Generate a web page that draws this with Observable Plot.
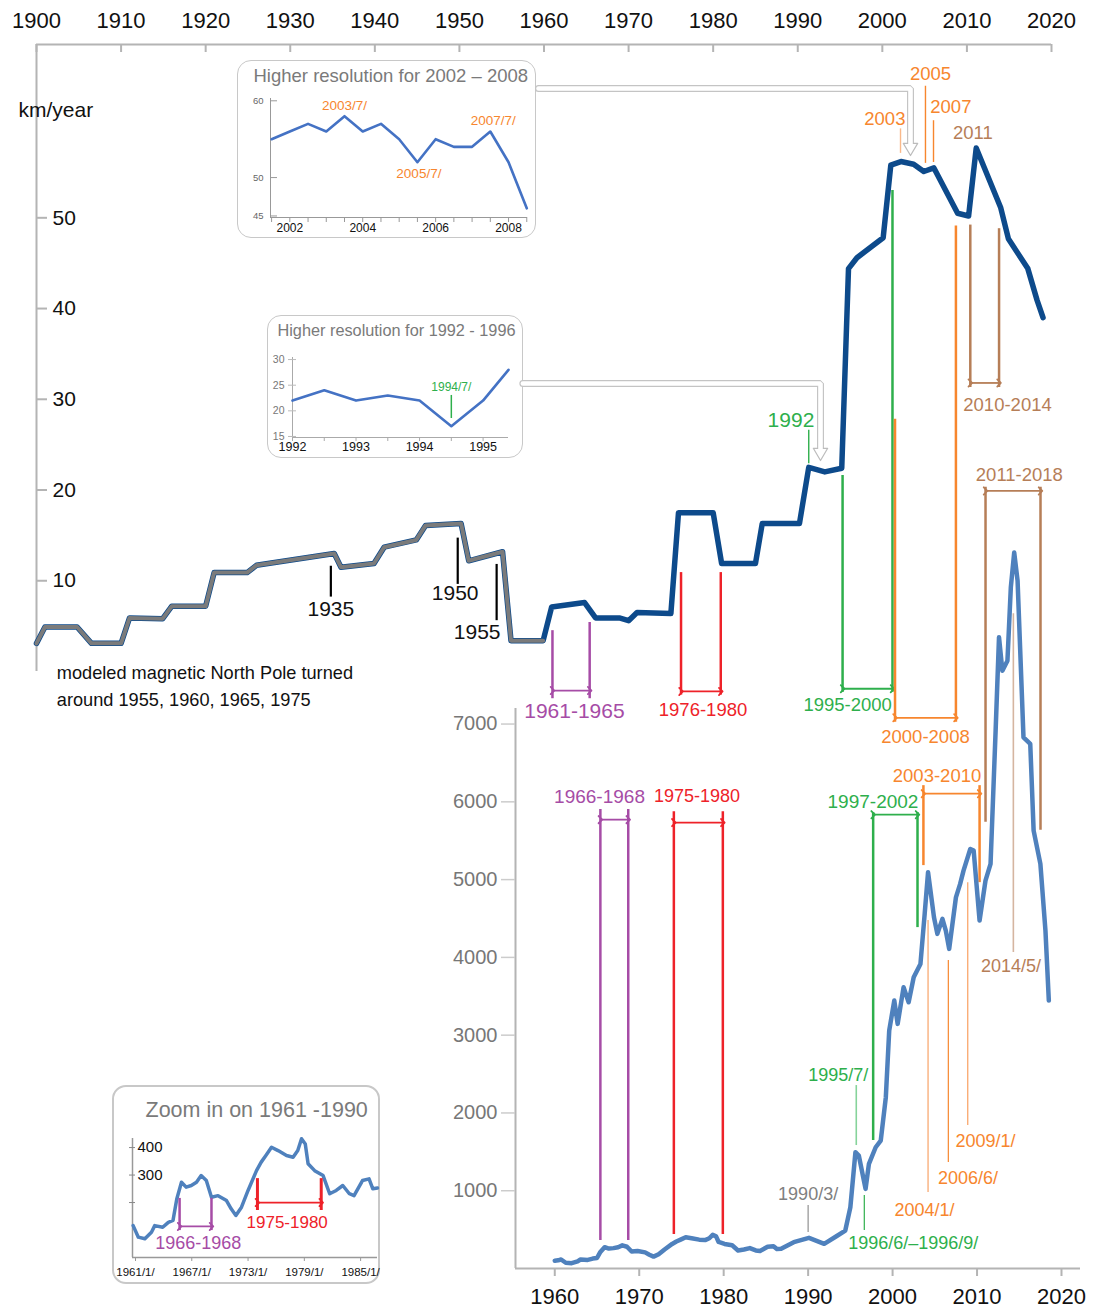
<!DOCTYPE html>
<html>
<head>
<meta charset="utf-8">
<script src="https://cdn.jsdelivr.net/npm/d3@7"></script>
<script src="https://cdn.jsdelivr.net/npm/@observablehq/plot@0.6"></script>
<style>
  html, body { margin: 0; padding: 0; background: #fff; overflow: hidden; }
  #wrap { position: relative; width: 1095px; height: 1311px; overflow: hidden; background: #fff; }
  #wrap svg { position: absolute; left: 0; top: 0; }
  .box { position: absolute; box-sizing: border-box; border: 1.5px solid #c8c8c8; border-radius: 14px; background: #fff; }
</style>
</head>
<body>
<div id="wrap"></div>
<script>
// ======================= DATA =======================
// --- upper chart: speed, km/year ---
const topXTicks = [1900,1910,1920,1930,1940,1950,1960,1970,1980,1990,2000,2010,2020];
const topYTicks = [10,20,30,40,50];
const unitLabel = "km/year";
const topYears = [1900,1901,1904.8,1906.5,1910,1911,1914.9,1916,1920,1921,1924.9,1926,1935.2,1936,1939.9,1941.1,1944.9,1946,1950.2,1951.1,1955.1,1956.1,1959.9,
  1960.9,1964.8,1966.1,1968.9,1970,1971,1975,1975.9,1980,1981,1985,1985.8,1990.2,1991.3,1993.2,1995.2,1996,1997,2000.1,2001,2002.2,2003.7,2004.9,2006.1,2008.9,2010.2,2011.1,2014,2014.9,2017.2,2018.3,2019];
const topValues = [3.1,4.9,4.9,3.1,3.1,5.9,5.8,7.2,7.2,10.9,10.9,11.7,13.0,11.5,11.9,13.7,14.5,16.1,16.3,12.2,13.2,3.4,3.4,
  7.1,7.6,5.9,5.9,5.6,6.5,6.4,17.5,17.5,11.9,11.9,16.3,16.3,22.5,22.0,22.4,44.4,45.6,47.8,55.8,56.2,55.9,55.1,55.5,50.5,50.2,57.7,51.1,47.7,44.4,40.9,39.0];
const modelledUntil = 1959.9;
const turnLabels = ["1935","1950","1955"];
const noteLines = ["modeled magnetic North Pole turned","around 1955, 1960, 1965, 1975"];
const topPeriodLabels = ["1961-1965","1976-1980","1995-2000","2000-2008","2010-2014","2011-2018"];
const topPeriodFrom = [1961.0,1976.2,1995.3,2001.5,2010.4,2012.2];
const topPeriodTo   = [1965.4,1980.9,2001.2,2008.7,2013.8,2018.7];
const topYearLabels = ["1992","2003","2005","2007","2011"];

// --- lower chart ---
const btmXTicks = [1960,1970,1980,1990,2000,2010,2020];
const btmYTicks = [1000,2000,3000,4000,5000,6000,7000];
const btmYears = [1960.0,1960.4,1960.75,1961.3,1962.0,1962.7,1963.05,1963.9,1964.5,1965.0,1965.4,1965.9,1966.4,1966.95,1967.5,1968.0,1968.55,1969.1,1969.8,1970.7,1971.2,1971.7,1972.3,1973.0,1973.9,1974.4,1974.9,1975.5,1976.2,1977.1,1977.8,1978.3,1978.7,1979.1,1979.4,1980.1,1981.0,1981.7,1982.4,1983.1,1983.8,1984.3,1985.2,1985.9,1986.3,1986.8,
  1988.3,1990.1,1991.9,1993.3,1994.4,1995.0,1995.6,1996.0,1996.8,1997.2,1998.0,1998.6,1999.2,1999.6,2000.2,2000.6,2001.3,2001.9,2002.5,2003.3,2003.8,2004.2,2004.9,2005.3,2005.9,2006.3,2006.7,2007.5,2008.0,2008.4,2009.2,2009.6,2010.3,2011.0,2011.6,2012.2,2012.6,2013.0,2013.6,2014.0,2014.4,2014.8,2015.5,2016.3,2016.7,2017.5,2018.1,2018.5];
const btmValues = [100,105,116,74,68,92,116,110,128,135,213,274,256,262,274,298,280,219,225,207,177,153,183,244,316,347,371,401,389,371,365,389,432,413,341,316,298,232,244,262,232,225,280,286,250,253,
  338,394,317,411,488,788,1495,1452,1024,1346,1559,1645,2202,3059,3445,3145,3616,3423,3744,3916,4559,5094,4516,4302,4495,4344,4109,4772,4945,5116,5394,5373,4473,4987,5202,6915,8115,7686,7815,8757,9207,8843,6829,6744,5630,5202,4344,3445];
const btmPeriodLabels = ["1966-1968","1975-1980","1997-2002","2003-2010"];
const btmPeriodFrom = [1965.4,1974.1,1997.7,2003.65];
const btmPeriodTo   = [1968.7,1979.9,2002.95,2010.3];
const btmDateLabels = ["1990/3/","1995/7/","1996/6/\u20131996/9/","2004/1/","2006/6/","2009/1/","2014/5/"];
const btmDateYears  = [1990.0,1995.7,1996.65,2004.2,2006.6,2008.9,2014.3];

// --- inset: 2002-2008 ---
const hrATitle = "Higher resolution for 2002 \u2013 2008";
const hrAYears  = [2001.5,2002,2002.5,2003,2003.5,2004,2004.5,2005,2005.5,2006,2006.5,2007,2007.5,2008,2008.5];
const hrAValues = [55,56,57,56,58,56,57,55,52,55,54,54,56,52,46];
const hrAXLabels = [2002,2004,2006,2008];
const hrAYTicks = [45,50,60];
const hrANotes = ["2003/7/","2005/7/","2007/7/"];
const hrANoteYears = [2003.5,2005.5,2007.5];

// --- inset: 1992-1996 ---
const hrBTitle = "Higher resolution for 1992 - 1996";
const hrBYears  = [1992,1992.5,1993,1993.5,1994,1994.5,1995,1995.4];
const hrBValues = [22,24,22,23,22,17,22,28];
const hrBXLabels = [1992,1993,1994,1995];
const hrBYTicks = [15,20,25,30];
const hrBNote = "1994/7/";
const hrBNoteYear = 1994.5;

// --- inset: 1961-1990 ---
const zoomTitle = "Zoom in on 1961 -1990";
const zoomXLabels = ["1961/1/","1967/1/","1973/1/","1979/1/","1985/1/"];
const zoomXTickYears = [1961,1967,1973,1979,1985];
const zoomYTicks = [200,300,400];
const zoomYLabels = ["","300","400"];
const zoomPeriodLabels = ["1966-1968","1975-1980"];
const zoomPeriodFrom = [1965.7,1974.0];
const zoomPeriodTo   = [1969.1,1980.8];

// ======================= STYLE & LAYOUT =======================
const W = 1095, H = 1311;
const FONT = "'Liberation Sans', Arial, Helvetica, sans-serif";
const C = {purple:"#a64ca6", red:"#ee2229", green:"#2eaf4c", orange:"#f7862e", brown:"#b67e57",
  navy:"#0d4a8b", gray:"#7b7b7b", blue:"#4f81bd", inset:"#4472c4", axis:"#b4b4b4", title:"#7a7a7a"};
const wrap = document.getElementById("wrap");

function box(l, t, w, h, bw) {
  const d = document.createElement("div");
  d.className = "box";
  Object.assign(d.style, {left: l + "px", top: t + "px", width: w + "px", height: h + "px", borderWidth: bw + "px"});
  wrap.appendChild(d);
}
function add(opts) {
  const svg = Plot.plot({width: W, height: H, ...opts,
    style: {background: "transparent", overflow: "visible", fontFamily: FONT}});
  wrap.appendChild(svg);
}
function txt(items, opts) {
  return Plot.text(items, {x: "x", y: "y", text: "t", fontFamily: FONT, lineAnchor: "middle", ...opts});
}
function label(items, opts) {
  return Plot.text(items, {fontFamily: FONT, lineAnchor: "middle", ...opts});
}
function periodMarks(labels, from, to, layout) {
  const marks = [];
  labels.forEach((lab, i) => {
    const L = layout[i];
    const bars = [{x: from[i], y1: L.tops[0], y2: L.bottoms[0]}, {x: to[i], y1: L.tops[1], y2: L.bottoms[1]}];
    marks.push(Plot.ruleX(bars, {x: "x", y1: "y1", y2: "y2", stroke: L.color, strokeWidth: L.bw || 2.5}));
    marks.push(Plot.link([{x1: from[i], x2: to[i], y: L.arrowY}],
      {x1: "x1", x2: "x2", y1: "y", y2: "y", stroke: L.color, strokeWidth: 1.8, markerStart: "arrow", markerEnd: "arrow"}));
    marks.push(txt([{t: lab, x: L.lx, y: L.ly}], {fill: L.color, fontSize: L.fs}));
  });
  return marks;
}

// inset frames (drawn under everything)
box(237, 60, 299, 178, 1.5);
box(267, 315, 256, 143, 1.5);
box(112, 1085, 268, 199, 2);

// ----------------------- upper chart -----------------------
const TOP = {left: 36, right: 1051, top: 44, bottom: 671};
const topXDomain = [1900, 2020], topYDomain = [0, 69.1];
const topData = topYears.map((year, i) => ({year, v: topValues[i]}));

const turnLayout = [
  {x: 1934.8, y1: 11.6, y2: 8.2, lx: 1934.8, ly: 6.9},
  {x: 1949.8, y1: 14.7, y2: 9.6, lx: 1949.5, ly: 8.6},
  {x: 1954.4, y1: 11.8, y2: 5.6, lx: 1952.1, ly: 4.3}
];
const noteLayout = [{x: 1902.4, y: -0.2}, {x: 1902.4, y: -3.2}];
const topPeriodLayout = [
  {color: C.purple, tops: [4.5, 5.4],  bottoms: [-3.0, -3.0], arrowY: -2.1, lx: 1963.6, ly: -4.4, fs: 21},
  {color: C.red,    tops: [10.9, 10.9], bottoms: [-2.6, -2.6], arrowY: -2.2, lx: 1978.8, ly: -4.3, fs: 18.5},
  {color: C.green,  tops: [21.6, 53.0], bottoms: [-2.3, -2.3], arrowY: -1.9, lx: 1995.9, ly: -3.7, fs: 18.5},
  {color: C.orange, tops: [27.8, 49.1], bottoms: [-5.6, -5.6], arrowY: -5.1, lx: 2005.1, ly: -7.2, fs: 18.5},
  {color: C.brown,  tops: [49.2, 48.8], bottoms: [31.3, 31.3], arrowY: 31.8, lx: 2014.8, ly: 29.4, fs: 18.5},
  {color: C.brown,  tops: [20.3, 20.3], bottoms: [-16.6, -17.5], arrowY: 19.9, lx: 2016.2, ly: 21.6, fs: 18.5}
];
const topYearLayout = [
  {x: 1989.2, y: 27.7, color: C.green,  line: {x: 1991.3, y1: 26.6, y2: 22.9, color: C.green}},
  {x: 2000.3, y: 60.9, color: C.orange, line: {x: 2002.15, y1: 59.8, y2: 57.1, color: "#f9b98a"}},
  {x: 2005.7, y: 65.8, color: C.orange, line: {x: 2005.1, y1: 64.5, y2: 56.0, color: C.orange}},
  {x: 2008.1, y: 62.2, color: C.orange, line: {x: 2006.05, y1: 60.7, y2: 56.1, color: C.orange}},
  {x: 2010.7, y: 59.3, color: C.brown,  line: null}
];
// hollow connector arrows from the insets
const connectors = [
  {path: [{x: 1959.35, y: 64.25}, {x: 2003.33, y: 64.25}, {x: 2003.33, y: 58.1}], tip: 56.86, base: 58.2},
  {path: [{x: 1957.5, y: 31.74}, {x: 1992.69, y: 31.74}, {x: 1992.69, y: 24.5}], tip: 23.25, base: 24.6}
];
const headHalf = 0.85; // years
const connMarks = [];
connectors.forEach(c => {
  const x = c.path[c.path.length - 1].x;
  const tri = [{x: x - headHalf, y: c.base}, {x: x + headHalf, y: c.base}, {x, y: c.tip}, {x: x - headHalf, y: c.base}];
  connMarks.push(Plot.line(c.path, {x: "x", y: "y", stroke: "#c4c4c4", strokeWidth: 7, strokeLinejoin: "miter"}));
  connMarks.push(Plot.line(tri, {x: "x", y: "y", fill: "white", stroke: "#bcbcbc", strokeWidth: 1.2}));
  connMarks.push(Plot.line(c.path, {x: "x", y: "y", stroke: "white", strokeWidth: 4.6, strokeLinejoin: "miter"}));
});

add({
  marginLeft: TOP.left, marginRight: W - TOP.right, marginTop: TOP.top, marginBottom: H - TOP.bottom,
  x: {domain: topXDomain, axis: null},
  y: {domain: topYDomain, axis: null},
  marks: [
    Plot.ruleY([topYDomain[1]], {stroke: C.axis, strokeWidth: 2}),
    Plot.ruleX([topXDomain[0]], {stroke: C.axis, strokeWidth: 2}),
    Plot.ruleX(topXTicks, {x: d => d, stroke: C.axis, strokeWidth: 2, insetBottom: (TOP.bottom - TOP.top) - 8}),
    Plot.ruleY(topYTicks, {y: d => d, stroke: C.axis, strokeWidth: 2, insetRight: (TOP.right - TOP.left) - 11}),
    label(topXTicks, {x: d => d, frameAnchor: "top", dy: -24, text: d => String(d), fontSize: 22, fill: "#111"}),
    label(topYTicks, {y: d => d, frameAnchor: "left", dx: 16, textAnchor: "start", text: d => String(d), fontSize: 21, fill: "#111"}),
    label([unitLabel], {frameAnchor: "top-left", dx: -18, dy: 66, textAnchor: "start", text: d => d, fontSize: 21, fill: "#111"}),
    ...connMarks,
    Plot.line(topData, {x: "year", y: "v", stroke: C.navy, strokeWidth: 5.5, strokeLinejoin: "round", strokeLinecap: "round"}),
    Plot.line(topData.filter(d => d.year <= modelledUntil), {x: "year", y: "v", stroke: C.gray, strokeWidth: 4, strokeLinejoin: "round"}),
    Plot.ruleX(turnLayout, {x: "x", y1: "y1", y2: "y2", stroke: "#000", strokeWidth: 2.2}),
    txt(turnLabels.map((t, i) => ({t, x: turnLayout[i].lx, y: turnLayout[i].ly})), {fill: "#111", fontSize: 21}),
    txt(noteLines.map((t, i) => ({t, ...noteLayout[i]})), {textAnchor: "start", fill: "#111", fontSize: 18.2}),
    ...periodMarks(topPeriodLabels, topPeriodFrom, topPeriodTo, topPeriodLayout),
    Plot.ruleX(topYearLayout.filter(d => d.line).map(d => d.line), {x: "x", y1: "y1", y2: "y2", stroke: d => d.color, strokeWidth: 1.4}),
    ...topYearLabels.map((t, i) => txt([{t, x: topYearLayout[i].x, y: topYearLayout[i].y}], {fill: topYearLayout[i].color, fontSize: i === 0 ? 21 : 18.5}))
  ]
});

// ----------------------- lower chart -----------------------
const BTM = {left: 515, right: 1080, top: 708, bottom: 1268};
const btmXDomain = [1955.35, 2022.25], btmYDomain = [0, 7200];
const btmData = btmYears.map((year, i) => ({year, v: btmValues[i]}));
const btmPeriodLayout = [
  {color: C.purple, tops: [5900, 5900], bottoms: [360, 360],   arrowY: 5771, lx: 1965.3, ly: 6067, fs: 19},
  {color: C.red,    tops: [5874, 5874], bottoms: [437, 437],   arrowY: 5733, lx: 1976.84, ly: 6067, fs: 18},
  {color: C.green,  tops: [5861, 5861], bottoms: [1645, 4383], arrowY: 5835, lx: 1997.68, ly: 6003, fs: 19},
  {color: C.orange, tops: [6208, 6208], bottoms: [5180, 4961], arrowY: 6105, lx: 2005.26, ly: 6337, fs: 18.5}
];
const dateLayout = [
  {lx: 1990.0,  ly: 951,  anchor: "middle", color: "#808080", line: {y1: 463, y2: 810},   lineColor: "#999999", lw: 1.3},
  {lx: 1993.57, ly: 2481, anchor: "middle", color: C.green,   line: {y1: 1581, y2: 2352}, lineColor: "#86d39a", lw: 1.6},
  {lx: 1994.75, ly: 321,  anchor: "start",  color: C.green,   line: {y1: 488, y2: 938},   lineColor: C.green,   lw: 1.2},
  {lx: 2003.78, ly: 746,  anchor: "middle", color: C.orange,  line: {y1: 977, y2: 4473},  lineColor: "#f9b07d", lw: 1.4},
  {lx: 2008.93, ly: 1157, anchor: "middle", color: C.orange,  line: {y1: 1362, y2: 3959}, lineColor: C.orange,  lw: 1.2},
  {lx: 2011.0,  ly: 1632, anchor: "middle", color: C.orange,  line: {y1: 1838, y2: 4961}, lineColor: "#f9a060", lw: 1.2},
  {lx: 2014.02, ly: 3882, anchor: "middle", color: C.brown,   line: {y1: 4062, y2: 8419}, lineColor: "#d5b5a0", lw: 1.6}
];
const dateMarks = [];
btmDateLabels.forEach((t, i) => {
  const L = dateLayout[i];
  dateMarks.push(Plot.ruleX([{x: btmDateYears[i], ...L.line}], {x: "x", y1: "y1", y2: "y2", stroke: L.lineColor, strokeWidth: L.lw}));
  dateMarks.push(txt([{t, x: L.lx, y: L.ly}], {fill: L.color, fontSize: 18, textAnchor: L.anchor}));
});

add({
  marginLeft: BTM.left, marginRight: W - BTM.right, marginTop: BTM.top, marginBottom: H - BTM.bottom,
  x: {domain: btmXDomain},
  y: {domain: btmYDomain},
  marks: [
    Plot.ruleX([btmXDomain[0]], {stroke: C.axis, strokeWidth: 2}),
    Plot.ruleY([0], {stroke: C.axis, strokeWidth: 2}),
    Plot.axisX({ticks: btmXTicks, anchor: "bottom", tickSize: 8, tickPadding: 12, tickFormat: d => String(d), fontSize: 22, stroke: C.axis, strokeWidth: 2, fill: "#111", fontFamily: FONT}),
    Plot.axisY({ticks: btmYTicks, anchor: "left", tickSize: 14, tickPadding: 4, tickFormat: d => String(d), fontSize: 20, stroke: "#cccccc", strokeWidth: 1.5, fill: "#777", fontFamily: FONT}),
    ...periodMarks(btmPeriodLabels, btmPeriodFrom, btmPeriodTo, btmPeriodLayout),
    ...dateMarks,
    Plot.line(btmData, {x: "year", y: "v", stroke: C.blue, strokeWidth: 4.5, strokeLinejoin: "round", strokeLinecap: "round"})
  ]
});

// ----------------------- inset 2002-2008 -----------------------
const IA = {left: 270, right: 527, top: 98, bottom: 217};
const iaX = [2001.47, 2008.52], iaY = [44.8, 60.3];
const hrAData = hrAYears.map((year, i) => ({year, v: hrAValues[i]}));
const hrANoteLayout = [{dx: 0, y: 59.4}, {dx: 0.04, y: 50.5}, {dx: 0.08, y: 57.4}];
add({
  marginLeft: IA.left, marginRight: W - IA.right, marginTop: IA.top, marginBottom: H - IA.bottom,
  x: {domain: iaX}, y: {domain: iaY, axis: null},
  marks: [
    Plot.ruleX([iaX[0]], {stroke: "#999", strokeWidth: 1}),
    Plot.ruleY([iaY[0]], {stroke: "#999", strokeWidth: 1}),
    Plot.axisX({ticks: hrAYears, anchor: "bottom", tickSize: 5, tickFormat: () => "", stroke: "#999"}),
    Plot.axisX({ticks: hrAXLabels, anchor: "bottom", tickSize: 0, tickPadding: 6, tickFormat: d => String(d), fontSize: 12, fill: "#111", fontFamily: FONT}),
    Plot.ruleY(hrAYTicks, {y: d => d, stroke: "#999", insetRight: (IA.right - IA.left) - 7}),
    label(hrAYTicks, {y: d => d, frameAnchor: "left", dx: -7, textAnchor: "end", text: d => String(d), fontSize: 9.5, fill: "#666"}),
    label([hrATitle], {frameAnchor: "top-left", dx: -17, dy: -22, textAnchor: "start", text: d => d, fontSize: 18.5, fill: C.title}),
    Plot.line(hrAData, {x: "year", y: "v", stroke: C.inset, strokeWidth: 2.6, strokeLinejoin: "round"}),
    txt(hrANotes.map((t, i) => ({t, x: hrANoteYears[i] + hrANoteLayout[i].dx, y: hrANoteLayout[i].y})), {fill: C.orange, fontSize: 13.5})
  ]
});

// ----------------------- inset 1992-1996 -----------------------
const IB = {left: 292, right: 508, top: 357, bottom: 437};
const ibX = [1992, 1995.4], ibY = [14.8, 30.4];
const hrBData = hrBYears.map((year, i) => ({year, v: hrBValues[i]}));
add({
  marginLeft: IB.left, marginRight: W - IB.right, marginTop: IB.top, marginBottom: H - IB.bottom,
  x: {domain: ibX}, y: {domain: ibY, axis: null},
  marks: [
    Plot.ruleX([ibX[0]], {stroke: "#aaa", strokeWidth: 1}),
    Plot.ruleY([ibY[0]], {stroke: "#aaa", strokeWidth: 1}),
    Plot.axisX({ticks: hrBYears.filter(y => Number.isInteger(y * 2)), anchor: "bottom", tickSize: 4, tickFormat: () => "", stroke: "#aaa"}),
    Plot.axisX({ticks: hrBXLabels, anchor: "bottom", tickSize: 0, tickPadding: 5, tickFormat: d => String(d), fontSize: 12.5, fill: "#111", fontFamily: FONT}),
    Plot.ruleY(hrBYTicks, {y: d => d, stroke: "#bbb", insetLeft: -4, insetRight: (IB.right - IB.left) - 4}),
    label(hrBYTicks, {y: d => d, frameAnchor: "left", dx: -8, textAnchor: "end", text: d => String(d), fontSize: 10.5, fill: "#777"}),
    label([hrBTitle], {frameAnchor: "top-left", dx: -15, dy: -27, textAnchor: "start", text: d => d, fontSize: 16.3, fill: C.title}),
    Plot.line(hrBData, {x: "year", y: "v", stroke: C.inset, strokeWidth: 2.6, strokeLinejoin: "round"}),
    Plot.ruleX([{x: hrBNoteYear, y1: 23.0, y2: 18.5}], {x: "x", y1: "y1", y2: "y2", stroke: C.green, strokeWidth: 1.5}),
    txt([{t: hrBNote, x: hrBNoteYear, y: 24.7}], {fill: C.green, fontSize: 12})
  ]
});

// ----------------------- inset 1961-1990 -----------------------
const IC = {left: 132, right: 377, top: 1138, bottom: 1257};
const icX = [1960.68, 1986.8], icY = [0, 433];
const zoomData = btmData.filter(d => d.year >= 1960.7 && d.year <= icX[1]);
const zoomPeriodLayout = [
  {color: C.purple, tops: [215, 215], bottoms: [98, 98],   arrowY: 113, lx: 1967.7, ly: 51,  fs: 18, bw: 2.5},
  {color: C.red,    tops: [287, 287], bottoms: [171, 171], arrowY: 200, lx: 1977.17, ly: 127, fs: 17, bw: 3}
];
add({
  marginLeft: IC.left, marginRight: W - IC.right, marginTop: IC.top, marginBottom: H - IC.bottom,
  x: {domain: icX}, y: {domain: icY, axis: null},
  marks: [
    Plot.ruleX([icX[0]], {stroke: "#999", strokeWidth: 1.5}),
    Plot.ruleY([icY[0]], {stroke: "#999", strokeWidth: 1.5}),
    Plot.axisX({ticks: zoomXTickYears, anchor: "bottom", tickSize: 4, tickFormat: () => "", stroke: "#999"}),
    Plot.ruleY(zoomYTicks, {y: d => d, stroke: "#888", insetLeft: -3, insetRight: (IC.right - IC.left) - 3}),
    label(zoomYTicks, {y: d => d, frameAnchor: "left", dx: 5, textAnchor: "start", text: (d, i) => zoomYLabels[i], fontSize: 15, fill: "#111"}),
    label(zoomXLabels.map((t, i) => ({t, x: zoomXTickYears[i]})), {x: "x", text: "t", frameAnchor: "bottom", dy: 15, fontSize: 11.5, fill: "#111"}),
    label([zoomTitle], {frameAnchor: "top-left", dx: 13, dy: -28, textAnchor: "start", text: d => d, fontSize: 21.5, fill: C.title}),
    Plot.line(zoomData, {x: "year", y: "v", stroke: C.blue, strokeWidth: 3.5, strokeLinejoin: "round"}),
    ...periodMarks(zoomPeriodLabels, zoomPeriodFrom, zoomPeriodTo, zoomPeriodLayout)
  ]
});
</script>
</body>
</html>
